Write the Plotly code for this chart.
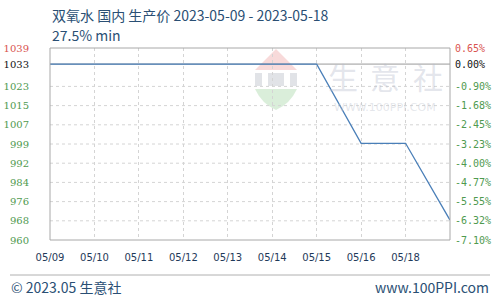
import plotly.graph_objects as go

# ---- data ----
x_labels = ["05/09", "05/10", "05/11", "05/12", "05/13", "05/14", "05/15", "05/16", "05/18", ""]
prices = [1033, 1033, 1033, 1033, 1033, 1033, 1033, 1000, 1000, 968]
left_tick_vals = [959.7, 967.7, 975.7, 983.7, 991.7, 999.7, 1007.7, 1015.7, 1023.7, 1033, 1039.7]
left_tick_text = ["960", "968", "976", "984", "992", "999", "1007", "1015", "1023", "1033", "1039"]
right_tick_text = ["-7.10%", "-6.32%", "-5.55%", "-4.77%", "-4.00%", "-3.23%", "-2.45%", "-1.68%", "-0.90%", "0.00%", "0.65%"]
base_value = 1033
title_text = "双氧水 国内 生产价 2023-05-09 - 2023-05-18"
subtitle_text = "27.5% min"
footer_left = "© 2023.05 生意社"
footer_right = "www.100PPI.com"

GREEN = "#4f9a4f"
RED = "#d9534f"
BLACK = "#111111"
TXT = "#2a4f74"

# plot area in pixels
L, R, T, B = 50, 450, 48, 240

def px(x):
    return (x - L) / (R - L)

def py(y):
    return (B - y) / (B - T)

def colored(texts):
    out = []
    n = len(texts)
    for i, t in enumerate(texts):
        c = RED if i == n - 1 else (BLACK if i == n - 2 else GREEN)
        out.append(f"<span style='color:{c}'>{t}</span>")
    return out

xs = list(range(len(prices)))
y_range = [left_tick_vals[0], left_tick_vals[-1]]

fig = go.Figure()
fig.add_trace(go.Scatter(x=xs, y=prices, mode="lines",
                         line=dict(color="#4a7fb8", width=1.3),
                         hoverinfo="skip", showlegend=False))
fig.add_trace(go.Scatter(x=xs, y=prices, mode="lines", yaxis="y2",
                         line=dict(color="rgba(0,0,0,0)", width=0),
                         hoverinfo="skip", showlegend=False))

grid_vals = [v for v in left_tick_vals if v not in (base_value, left_tick_vals[0], left_tick_vals[-1])]

fig.update_layout(
    width=500, height=300,
    margin=dict(l=L, r=500 - R, t=T, b=300 - B, autoexpand=False),
    paper_bgcolor="white", plot_bgcolor="white",
    font=dict(family="DejaVu Sans, Verdana, sans-serif", size=10),
    xaxis=dict(range=[0, len(prices) - 1], tickvals=xs[:-1], ticktext=x_labels[:-1],
               showgrid=True, gridcolor="#d4d4d4", griddash="dot", gridwidth=1,
               zeroline=False, showline=False, ticks="", ticklabelstandoff=10, automargin=False,
               tickfont=dict(color="#1f3a5a", size=10, family="DejaVu Sans, Verdana, sans-serif")),
    yaxis=dict(range=y_range, tickvals=left_tick_vals, ticktext=colored(left_tick_text),
               showgrid=False, zeroline=False, showline=False, ticks="", ticklabelstandoff=20,
               automargin=False,
               tickfont=dict(size=10, family="DejaVu Serif, Georgia, serif")),
    yaxis2=dict(range=y_range, tickvals=left_tick_vals, ticktext=colored(right_tick_text),
                overlaying="y", side="right", showgrid=False, zeroline=False,
                showline=False, ticks="", ticklabelstandoff=4, automargin=False,
                tickfont=dict(size=10, family="DejaVu Sans Mono, Courier New, monospace")),
)

shapes = []
# watermark logo
shapes.append(dict(type="path", xref="paper", yref="paper",
                   path=f"M {px(255)} {py(70)} L {px(276)} {py(49)} L {px(297)} {py(70)} Z",
                   fillcolor="rgba(235,150,150,0.35)", line=dict(width=0), layer="below"))
for x0, x1 in [(255, 262), (268, 284), (290, 297)]:
    shapes.append(dict(type="rect", xref="paper", yref="paper",
                       x0=px(x0), x1=px(x1), y0=py(86), y1=py(73),
                       fillcolor="rgba(170,175,185,0.35)", line=dict(width=0), layer="below"))
shapes.append(dict(type="path", xref="paper", yref="paper",
                   path=f"M {px(255)} {py(89)} L {px(297)} {py(89)} Q {px(290)} {py(104)} {px(276)} {py(110)} Q {px(262)} {py(104)} {px(255)} {py(89)} Z",
                   fillcolor="rgba(150,205,150,0.35)", line=dict(width=0), layer="below"))
for v in grid_vals:
    shapes.append(dict(type="line", xref="paper", yref="y", x0=0, x1=1, y0=v, y1=v,
                       line=dict(color="#d4d4d4", width=1, dash="dot"), layer="below"))
shapes.append(dict(type="line", xref="paper", yref="y", x0=0, x1=1, y0=base_value, y1=base_value,
                   line=dict(color="#9a9a9a", width=1), layer="below"))
shapes.append(dict(type="rect", xref="paper", yref="paper", x0=0, x1=1, y0=0, y1=1,
                   line=dict(color="#a8a8a8", width=1)))
shapes.append(dict(type="line", xref="paper", yref="paper", x0=px(10), x1=px(490),
                   y0=py(275), y1=py(275), line=dict(color="#b0b0b0", width=1)))
fig.update_layout(shapes=shapes)

ann = [
    dict(text=title_text, xref="paper", yref="paper", x=0, y=py(15),
         xanchor="left", yanchor="middle", showarrow=False,
         font=dict(size=14, color=TXT, family="Noto Sans CJK SC, sans-serif")),
    dict(text=subtitle_text, xref="paper", yref="paper", x=0, y=py(35),
         xanchor="left", yanchor="middle", showarrow=False,
         font=dict(size=14, color=TXT, family="Noto Sans CJK SC, sans-serif")),
    dict(text=footer_left, xref="paper", yref="paper", x=px(9), y=py(287),
         xanchor="left", yanchor="middle", showarrow=False,
         font=dict(size=14, color=TXT, family="Noto Sans CJK SC, sans-serif")),
    dict(text=footer_right, xref="paper", yref="paper", x=px(491), y=py(287),
         xanchor="right", yanchor="middle", showarrow=False,
         font=dict(size=14, color=TXT, family="Noto Sans CJK SC, sans-serif")),
    dict(text="WWW.100PPI.COM", xref="paper", yref="paper", x=px(385), y=py(107),
         xanchor="center", yanchor="middle", showarrow=False,
         font=dict(size=11, color="rgba(195,200,210,0.45)", family="DejaVu Sans, sans-serif")),
]
for ch, cx in zip(["生", "意", "社"], [343, 385, 428]):
    ann.append(dict(text=ch, xref="paper", yref="paper", x=px(cx), y=py(76),
                    xanchor="center", yanchor="middle", showarrow=False,
                    font=dict(size=30, color="rgba(185,190,205,0.4)",
                              family="Noto Sans CJK SC, sans-serif")))
fig.update_layout(annotations=ann)

fig.write_html("out.html")
